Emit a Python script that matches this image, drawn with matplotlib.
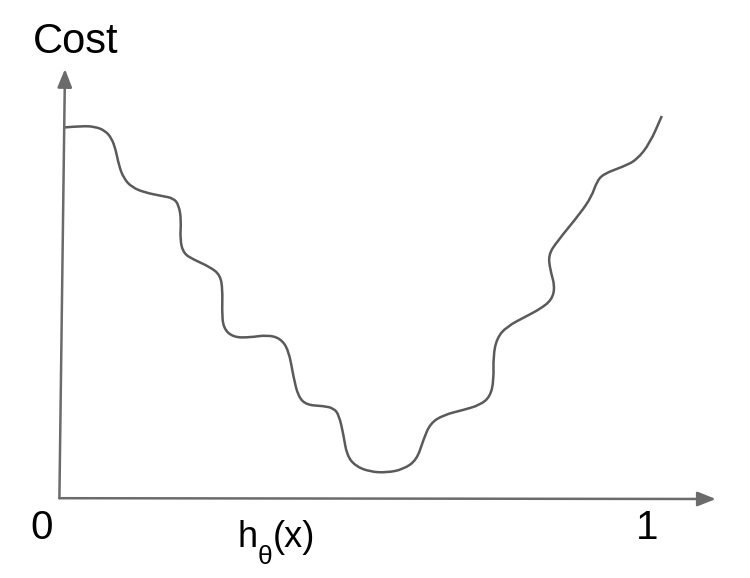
import matplotlib
matplotlib.use("Agg")
import matplotlib.pyplot as plt
from matplotlib.path import Path
from matplotlib.patches import PathPatch

plt.rcParams['font.family'] = ['Liberation Sans', 'DejaVu Sans']

# Curve: h(x) on 0..1, cost on a 0..100 scale
h_values = [0.008, 0.036, 0.058, 0.075, 0.086, 0.093, 0.098, 0.106, 0.120, 0.142,
            0.170, 0.189, 0.198, 0.202, 0.200, 0.206, 0.222, 0.250, 0.267, 0.271,
            0.270, 0.272, 0.289, 0.317, 0.345, 0.367, 0.381, 0.389, 0.397, 0.411,
            0.439, 0.456, 0.465, 0.4725, 0.478, 0.492, 0.517, 0.5445, 0.572, 0.5945,
            0.6055, 0.617, 0.639, 0.672, 0.700, 0.717, 0.723, 0.722, 0.728, 0.7445,
            0.778, 0.800, 0.8195, 0.825, 0.817, 0.814, 0.828, 0.867, 0.886, 0.8945,
            0.9055, 0.9388, 0.961, 0.983, 1.003]
cost = [92.4, 92.75, 92.6, 91.6, 89.7, 86.75, 83.0, 79.7, 77.4, 76.1,
        75.25, 74.7, 73.0, 69.25, 64.25, 60.9, 59.4, 57.5, 55.5, 51.75,
        46.75, 42.2, 39.9, 39.9, 40.5, 39.7, 36.75, 30.1, 25.1, 23.0,
        22.75, 22.2, 20.5, 15.5, 10.5, 7.75, 6.3, 6.1, 6.9, 9.25,
        14.25, 18.4, 20.5, 21.75, 23.0, 25.1, 29.25, 35.1, 39.7, 42.6,
        45.25, 47.0, 49.25, 52.6, 56.75, 60.5, 63.8, 70.9, 75.1, 78.8,
        80.75, 82.6, 84.25, 88.4, 95.25]

axis_color = '#6b6b6b'
curve_color = '#5a5a5a'

fig = plt.figure(figsize=(7.5, 5.78), dpi=100)
ax = fig.add_axes([0, 0, 1, 1])
ax.set_xlim(-0.1, 1.15)
ax.set_ylim(-20.25, 124.25)
ax.axis('off')

# the cost curve: traced points used as control points of quadratic curves,
# so matplotlib draws it smooth like the original sketch
pts = list(zip(h_values, cost))
verts = [pts[0]]
codes = [Path.MOVETO]
for i in range(1, len(pts) - 1):
    mid = ((pts[i][0] + pts[i + 1][0]) / 2, (pts[i][1] + pts[i + 1][1]) / 2)
    verts += [pts[i], mid]
    codes += [Path.CURVE3, Path.CURVE3]
verts.append(pts[-1])
codes.append(Path.LINETO)
ax.add_patch(PathPatch(Path(verts, codes), facecolor='none', edgecolor=curve_color,
                       lw=1.8, joinstyle='round', capstyle='butt'))

# axes with arrow heads
arrow = dict(arrowstyle='-|>,head_length=0.55,head_width=0.22', color=axis_color,
             lw=1.8, mutation_scale=20, shrinkA=0, shrinkB=0)
ax.annotate('', xy=(0.0083, 107), xytext=(-0.001, -0.3), arrowprops=arrow)
ax.annotate('', xy=(1.093, -0.5), xytext=(-0.001, -0.3), arrowprops=arrow)

# labels
ax.text(-0.045, 110.9, 'Cost', fontsize=30, ha='left', va='baseline')
ax.text(-0.031, -10.5, '0', fontsize=29, ha='center', va='baseline')
ax.text(0.978, -10.5, '1', fontsize=29, ha='center', va='baseline')
ax.text(0.295, -12.4, 'h', fontsize=26, ha='left', va='baseline')
ax.text(0.329, -16.8, 'θ', fontsize=19, ha='left', va='baseline')
ax.text(0.354, -12.4, '(x)', fontsize=26, ha='left', va='baseline')

fig.savefig('out.png', dpi=100)
